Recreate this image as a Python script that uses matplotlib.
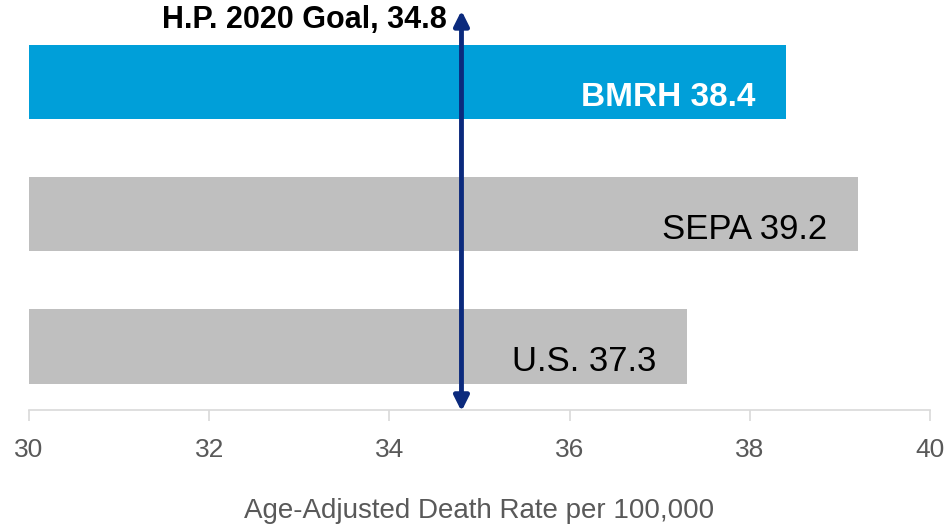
import numpy as np
import matplotlib
import matplotlib.pyplot as plt

matplotlib.rc('font', family=['Liberation Sans', 'DejaVu Sans'])

# data
regions = ["U.S.", "SEPA", "BMRH"]
rates = [37.3, 39.2, 38.4]
goal = 34.8
bar_colors = ["#bfbfbf", "#bfbfbf", "#009fd9"]
label_colors = ["black", "black", "white"]
label_weights = ["normal", "normal", "bold"]

fig = plt.figure(figsize=(9.46, 5.27), dpi=100)
ax = fig.add_axes([29 / 946, 117 / 527, 901 / 946, 410 / 527])

y = np.arange(len(regions))
ax.barh(y, np.array(rates) - 30, left=30, height=0.56, color=bar_colors)

for yi, r, v, c, w in zip(y, regions, rates, label_colors, label_weights):
    ax.annotate("%s %.1f" % (r, v), xy=(v, yi), xytext=(-22, -11),
                textcoords="offset points", ha="right", va="center",
                fontsize=24 if w == "bold" else 25, fontweight=w, color=c)

ax.set_xlim(30, 40)
ax.set_ylim(-0.48, 2.62)

# goal arrow
ax.annotate("", xy=(goal, 2.54), xytext=(goal, -0.49),
            arrowprops=dict(arrowstyle="<|-|>", color="#0b2a7d", lw=3.5,
                            mutation_scale=22, shrinkA=0, shrinkB=0))
ax.text(goal - 0.16, 2.47, "H.P. 2020 Goal, 34.8", ha="right", va="center",
        fontsize=22, fontweight="bold", color="black")

for s in ["top", "right", "left"]:
    ax.spines[s].set_visible(False)
ax.spines["bottom"].set_color("#d9d9d9")
ax.spines["bottom"].set_linewidth(1.2)
ax.set_yticks([])
ax.set_xticks(np.arange(30, 41, 2))
ax.tick_params(axis="x", colors="#d9d9d9", length=8, width=1.2, labelcolor="#595959",
               labelsize=19, pad=12)
ax.set_xlabel("Age-Adjusted Death Rate per 100,000", fontsize=20, color="#595959",
              labelpad=26)

plt.savefig("out.png", dpi=100)
